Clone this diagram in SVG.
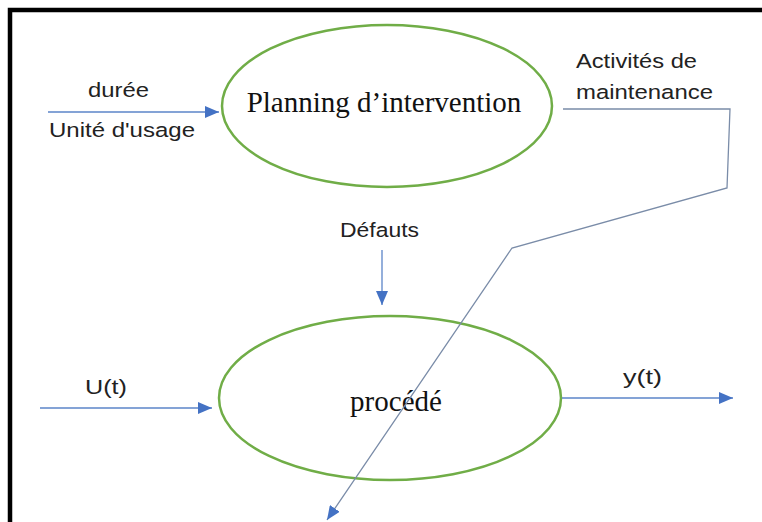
<svg xmlns="http://www.w3.org/2000/svg" width="762" height="522" viewBox="0 0 762 522">
  <style>
    .node { fill: none; stroke: #70AD47; stroke-width: 2.5; }
    .serif { font-family: "Liberation Serif", "Times New Roman", serif; font-size: 29px; fill: #111; text-anchor: middle; }
    .lbl { font-family: "Liberation Sans", Arial, sans-serif; font-size: 20.5px; fill: #222; }
    .arrow { fill: none; stroke: #5B84C8; stroke-width: 1.3; }
    .conn { fill: none; stroke: #7A8CA8; stroke-width: 1.3; }
  </style>
  <defs>
    <marker id="head" markerUnits="userSpaceOnUse" markerWidth="16" markerHeight="12" refX="14" refY="6" orient="auto">
      <path d="M0,0 L14,6 L0,12 Z" fill="#4472C4"/>
    </marker>
  </defs>
  <rect width="762" height="522" fill="#ffffff"/>
  <path d="M10,522 V10 H762" fill="none" stroke="#000" stroke-width="4.5"/>

  <g id="planning">
    <ellipse class="node" cx="387" cy="106" rx="165" ry="81"/>
    <text class="serif" x="384" y="112">Planning d’intervention</text>
  </g>
  <g id="procede">
    <ellipse class="node" cx="390" cy="398" rx="171" ry="82"/>
    <text class="serif" x="396" y="411">procédé</text>
  </g>

  <g id="connectors">
    <line class="arrow" x1="48" y1="112" x2="219" y2="112" marker-end="url(#head)"/>
    <line class="arrow" x1="382" y1="250" x2="382" y2="305" marker-end="url(#head)"/>
    <line class="arrow" x1="40" y1="408" x2="212" y2="408" marker-end="url(#head)"/>
    <line class="arrow" x1="562" y1="398" x2="733" y2="398" marker-end="url(#head)"/>
    <polyline class="conn" points="563,109 730,109 727,188 512,248 327,520" marker-end="url(#head)"/>
  </g>

  <g id="labels">
    <text class="lbl" x="88" y="97" textLength="61" lengthAdjust="spacingAndGlyphs">durée</text>
    <text class="lbl" x="49" y="137" textLength="146" lengthAdjust="spacingAndGlyphs">Unité d'usage</text>
    <text class="lbl" x="576" y="68" textLength="121" lengthAdjust="spacingAndGlyphs">Activités de</text>
    <text class="lbl" x="576" y="99" textLength="137" lengthAdjust="spacingAndGlyphs">maintenance</text>
    <text class="lbl" x="340" y="237" textLength="79" lengthAdjust="spacingAndGlyphs">Défauts</text>
    <text class="lbl" x="85" y="394" textLength="42" lengthAdjust="spacingAndGlyphs">U(t)</text>
    <text class="lbl" x="623" y="384" textLength="39" lengthAdjust="spacingAndGlyphs">y(t)</text>
  </g>
</svg>
